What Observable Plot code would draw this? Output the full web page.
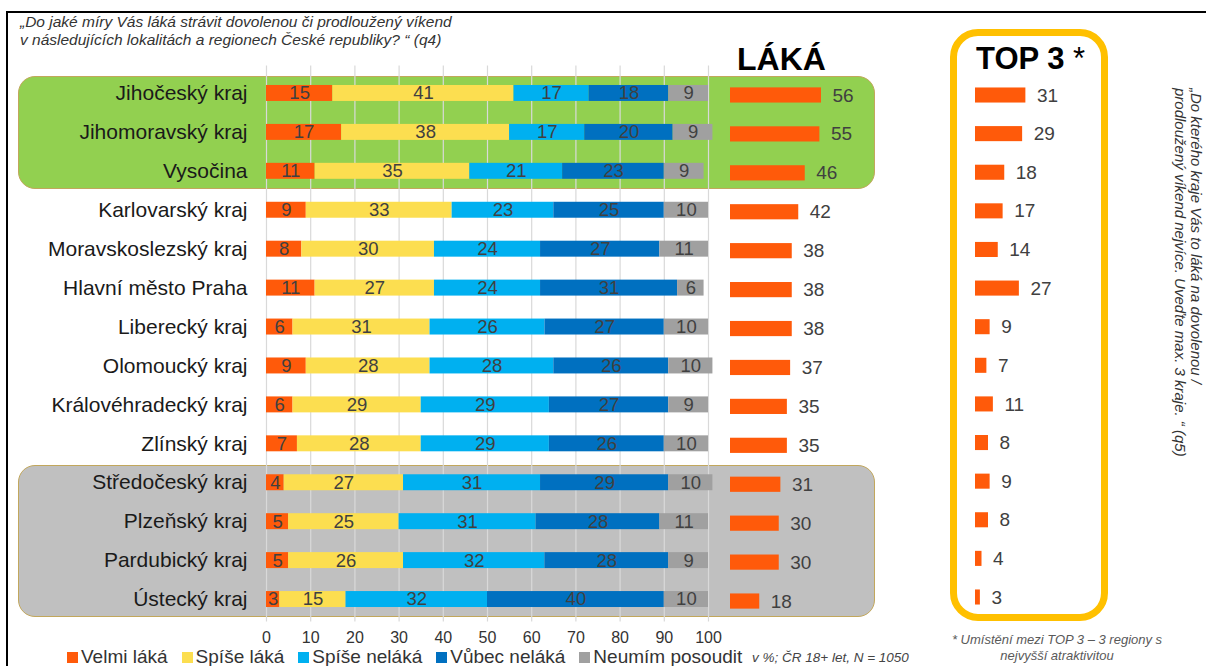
<!DOCTYPE html>
<html><head><meta charset="utf-8">
<script src="https://cdn.jsdelivr.net/npm/d3@7"></script>
<script src="https://cdn.jsdelivr.net/npm/@observablehq/plot@0.6"></script>
<style>
body{margin:0;background:#fff;font-family:"Liberation Sans",Arial,sans-serif;}
#wrap{position:relative;width:1206px;height:666px;overflow:hidden;background:#fff;}
.abs{position:absolute;white-space:nowrap;}
#wrap svg{position:absolute;left:0;top:0;background:transparent;overflow:visible;}
</style></head><body><div id="wrap"></div>
<script>
const regions = ["Jihočeský kraj","Jihomoravský kraj","Vysočina","Karlovarský kraj","Moravskoslezský kraj","Hlavní město Praha","Liberecký kraj","Olomoucký kraj","Královéhradecký kraj","Zlínský kraj","Středočeský kraj","Plzeňský kraj","Pardubický kraj","Ústecký kraj"];
const categories = ["Velmi láká","Spíše láká","Spíše neláká","Vůbec neláká","Neumím posoudit"];
const colors = ["#FF5A0A","#FCDE50","#00B0F0","#0070C0","#A0A0A0"];
const velmiLaka   = [15,17,11,9,8,11,6,9,6,7,4,5,5,3];
const spiseLaka   = [41,38,35,33,30,27,31,28,29,28,27,25,26,15];
const spiseNelaka = [17,17,21,23,24,24,26,28,29,29,31,31,32,32];
const vubecNelaka = [18,20,23,25,27,31,27,26,27,26,29,28,28,40];
const neumim      = [9,9,9,10,11,6,10,10,9,10,10,11,9,10];
const laka = [56,55,46,42,38,38,38,37,35,35,31,30,30,18];
const top3 = [31,29,18,17,14,27,9,7,11,8,9,8,4,3];
const xTicks = [0,10,20,30,40,50,60,70,80,90,100];

const series = [velmiLaka, spiseLaka, spiseNelaka, vubecNelaka, neumim];
const table = [];
regions.forEach((r, i) => categories.forEach((c, j) => table.push({region: r, category: c, value: series[j][i]})));
const lakaData = regions.map((r, i) => ({region: r, v: laka[i]}));
const top3Data = regions.map((r, i) => ({region: r, v: top3[i]}));

const wrap = document.getElementById("wrap");
function add(html, style) {
  const d = document.createElement("div");
  d.className = "abs";
  d.setAttribute("style", style);
  d.innerHTML = html;
  wrap.appendChild(d);
  return d;
}

// frame lines
add("", "left:6px;top:11px;width:1206px;height:660px;border-top:2px solid #000;border-left:2px solid #000;");
// highlight boxes
add("", "left:18px;top:76px;width:855px;height:111px;background:#92D050;border:1.5px solid #C2A75C;border-radius:17px;");
add("", "left:18px;top:465px;width:855px;height:150px;background:#C0C0C0;border:1.5px solid #C2A75C;border-radius:17px;");
add("", "left:950px;top:29px;width:144px;height:578px;border:7px solid #FFC000;border-radius:28px;");

const font = "Liberation Sans, Arial, sans-serif";

// main chart
const main = Plot.plot({
  width: 1206, height: 666,
  marginLeft: 266, marginRight: 498, marginTop: 73.5, marginBottom: 47.5,
  style: {background: "transparent", color: "#1a1a1a", fontFamily: font},
  x: {domain: [0, 100], axis: null},
  y: {domain: regions, paddingInner: 0.59, paddingOuter: 0.295, round: false, axis: null},
  color: {domain: categories, range: colors},
  marks: [
    Plot.ruleX(xTicks, {stroke: "#d9d9d9", strokeWidth: 1.2, insetTop: -8, insetBottom: -3}),
    Plot.barX(table, Plot.stackX({x: "value", y: "region", fill: "category", order: categories})),
    Plot.text(table, Plot.stackX({x: "value", y: "region", z: "category", text: "value", order: categories, fill: "#404040", fontSize: 18.5})),
    Plot.axisX({ticks: xTicks, tickSize: 0, tickPadding: 13, fontSize: 16, fill: "#333", label: null}),
    Plot.axisY({tickSize: 0, tickPadding: 19, fontSize: 21, fill: "#1a1a1a", label: null})
  ]
});
wrap.appendChild(main);

// LÁKÁ panel
const lakaPlot = Plot.plot({
  width: 1206, height: 666,
  marginLeft: 730, marginRight: 313.5, marginTop: 75.5, marginBottom: 45.5,
  style: {background: "transparent", fontFamily: font},
  x: {domain: [0, 100], axis: null},
  y: {domain: regions, paddingInner: 0.61, paddingOuter: 0.305, round: false, axis: null},
  marks: [
    Plot.barX(lakaData, {x: "v", y: "region", fill: "#FF5A0A"}),
    Plot.text(lakaData, {x: "v", y: "region", text: "v", dx: 11, textAnchor: "start", fill: "#404040", fontSize: 19})
  ]
});
wrap.appendChild(lakaPlot);

// TOP 3 panel
const topPlot = Plot.plot({
  width: 1206, height: 666,
  marginLeft: 975, marginRight: 68.5, marginTop: 75.7, marginBottom: 49.7,
  style: {background: "transparent", fontFamily: font},
  x: {domain: [0, 100], axis: null},
  y: {domain: regions, paddingInner: 0.61, paddingOuter: 0.305, round: false, axis: null},
  marks: [
    Plot.barX(top3Data, {x: "v", y: "region", fill: "#FF5A0A"}),
    Plot.text(top3Data, {x: "v", y: "region", text: "v", dx: 11, textAnchor: "start", fill: "#404040", fontSize: 19})
  ]
});
wrap.appendChild(topPlot);

// titles
add("„Do jaké míry Vás láká strávit dovolenou či prodloužený víkend<br>v následujících lokalitách a regionech České republiky? “ (q4)",
  "left:20px;top:13px;font-size:15.5px;line-height:18px;font-style:italic;color:#333;");
add("LÁKÁ", "left:737px;top:41px;font-size:32px;font-weight:bold;color:#000;");
add("TOP 3 <span style='font-weight:normal'>*</span>", "left:976px;top:41px;font-size:31px;font-weight:bold;color:#000;");
add("„Do kterého kraje Vás to láká na dovolenou /<br>prodloužený víkend nejvíce. Uveďte max. 3 kraje. “ (q5)",
  "left:1172px;top:88px;writing-mode:vertical-rl;font-size:15px;line-height:16px;font-style:italic;color:#333;");
add("* Umístění mezi TOP 3 – 3 regiony s<br>nejvyšší atraktivitou",
  "left:937px;width:240px;top:632px;text-align:center;font-size:13px;line-height:16px;font-style:italic;color:#595959;");
add("v %; ČR 18+ let, N = 1050", "left:752px;top:650px;font-size:13.5px;font-style:italic;color:#444;");

// legend
const leg = add("", "left:67px;top:646px;display:flex;gap:14px;font-size:19px;color:#333;align-items:center;");
categories.forEach((c, i) => {
  const s = document.createElement("span");
  s.style.cssText = "display:flex;align-items:center;";
  s.innerHTML = `<span style="display:inline-block;width:11px;height:11px;background:${colors[i]};margin-right:3px"></span>${c}`;
  leg.appendChild(s);
});
</script></body></html>
